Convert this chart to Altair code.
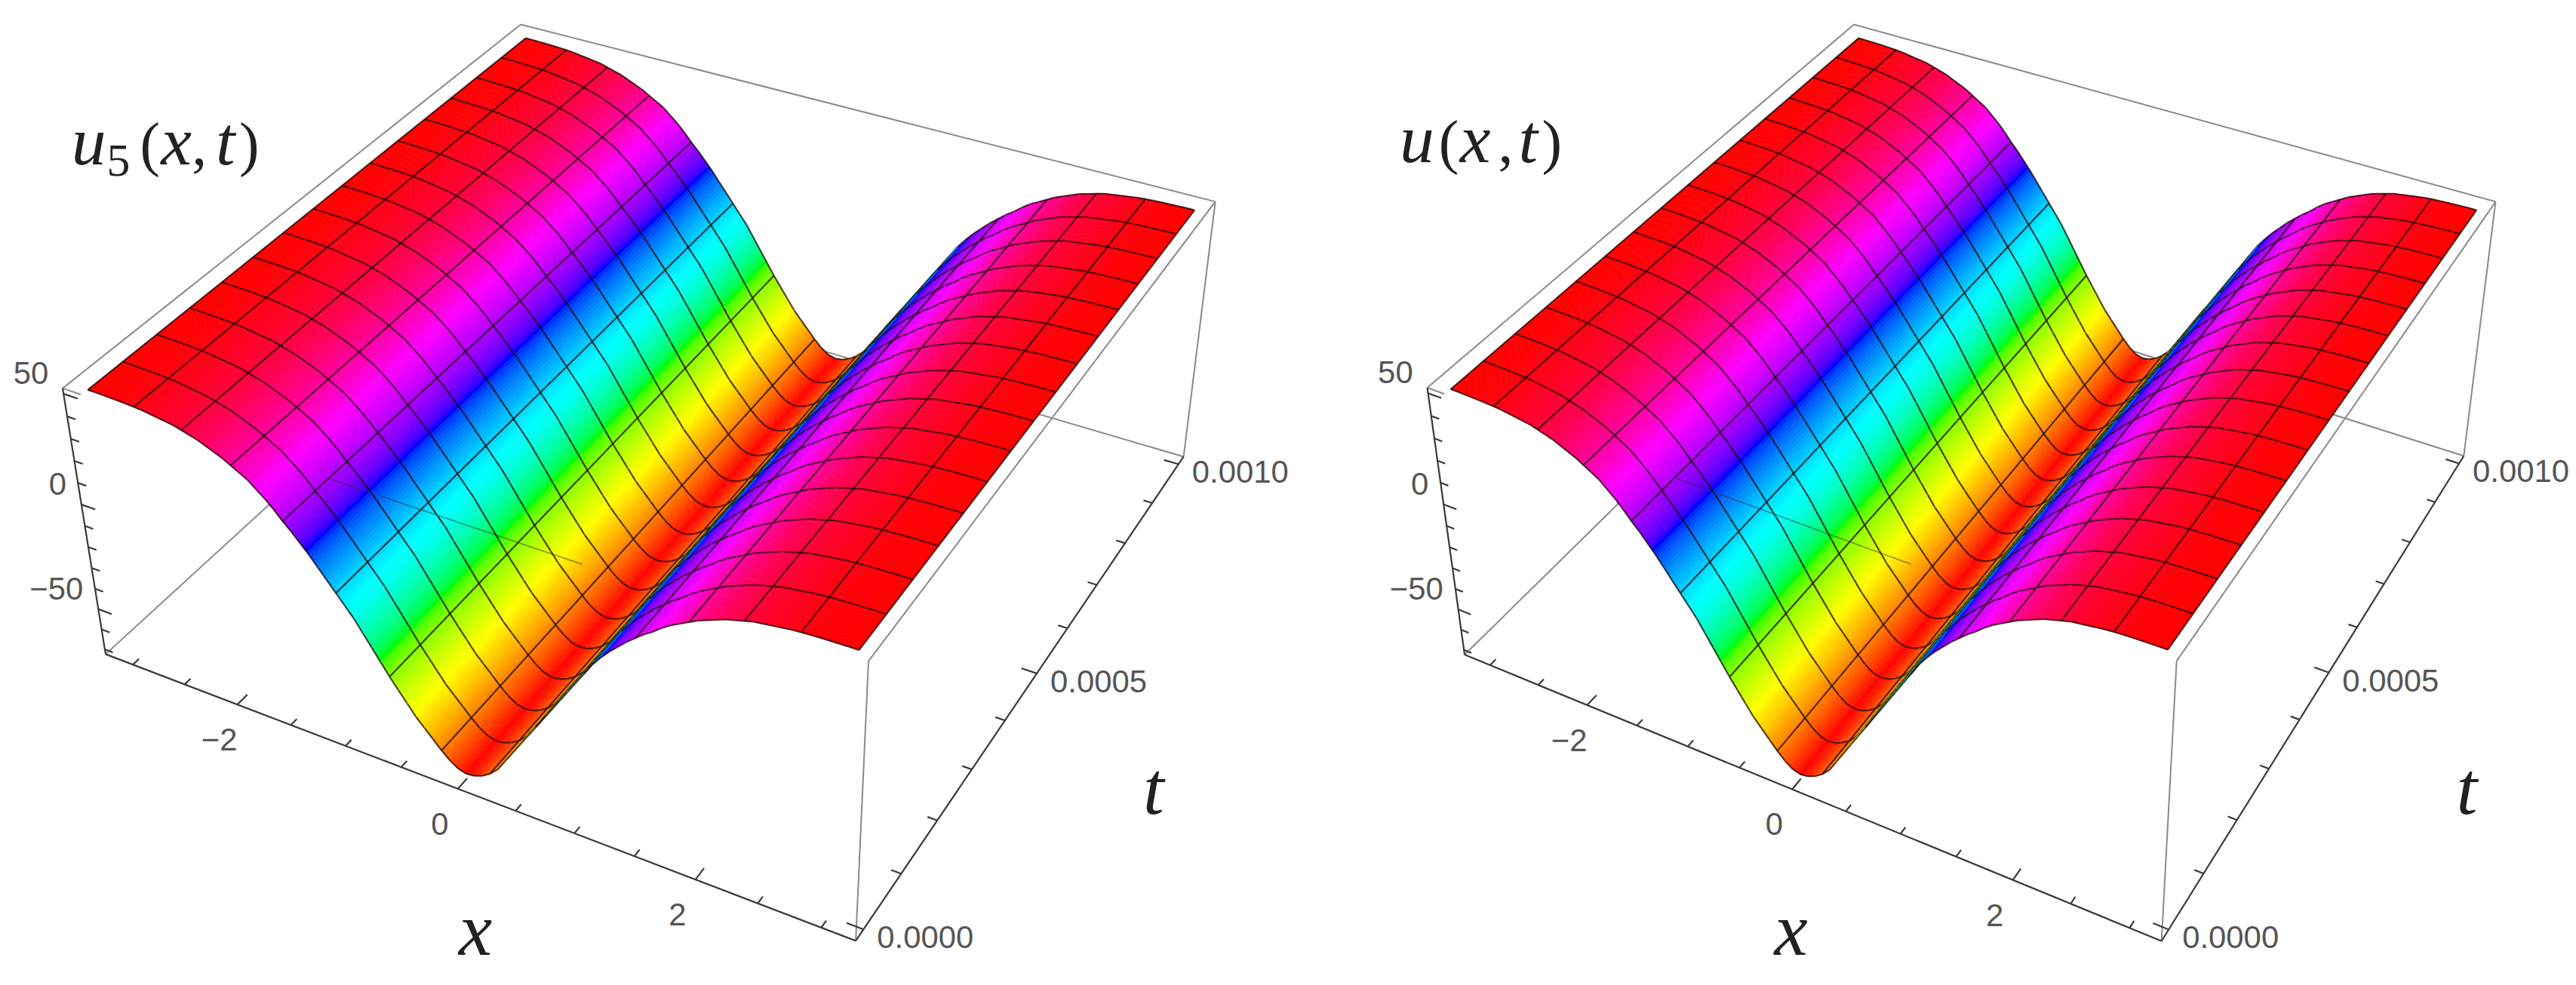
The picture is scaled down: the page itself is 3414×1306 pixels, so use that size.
"""Two side by side 3D surface plots, u5(x,t) and u(x,t), drawn with Altair."""

import numpy as np
import pandas as pd
import altair as alt

u_left_half = [
    50, 50, 49.9, 49.8, 49.7, 49.5, 49.3, 49, 48.5, 48,
    47.5, 47, 46, 45, 44, 42.5, 41, 39.5, 37.5, 35.5,
    33.5, 30.5, 27.5, 24, 20, 16.5, 12.5, 8.5, 4, -0.5,
    -5, -9.5, -14, -19.5, -25, -30.5, -36, -41, -46, -51,
    -55, -59, -63, -66.5, -69,
]
u_right_half = [
    -70, -69.5, -68, -65.5, -62, -56.5, -51, -45.5, -40, -34.5,
    -29, -23.5, -18, -12.5, -7, -1.5, 4, 8.5, 12.5, 16,
    19.5, 22.5, 25.5, 28, 31, 33.5, 35.5, 37.5, 39.5, 41,
    42.5, 44, 45, 46, 47, 47.5, 48, 48.5, 49, 49.3,
    49.5, 49.7, 49.8, 49.9, 50, 50,
]
u_values = u_left_half + u_right_half
x_values = list(np.linspace(-np.pi, np.pi, len(u_values)))

# data range of the box (2% padding round the surface, like the original)
x_range = [-3.267, 3.267]
t_range = [-0.00002, 0.00102]
u_range = [-72.4, 52.4]

t_max = 0.001
mesh_x_every = 6
mesh_t_count = 15
shade_steps = 4

x_ticks = [-3, -2.5, -2, -1.5, -1, -0.5, 0, 0.5, 1, 1.5, 2, 2.5, 3]
x_tick_labels = {-2: "\u22122", 0: "0", 2: "2"}
t_ticks = [0, 0.0001, 0.0002, 0.0003, 0.0004, 0.0005, 0.0006, 0.0007, 0.0008, 0.0009, 0.001]
t_tick_labels = {0: "0.0000", 0.0005: "0.0005", 0.001: "0.0010"}
u_ticks = [50, 40, 30, 20, 10, 0, -10, -20, -30, -40, -50, -60, -70]
u_tick_labels = {50: "50", 0: "0", -50: "\u221250"}

hue_stops = ["#ff0000", "#ffff00", "#00ff00", "#00ffff", "#0000ff", "#ff00ff", "#ff0000"]
hue_domain = [-70, -50, -30, -10, 10, 30, 50]

PANEL_W = 1699
PANEL_H = 1290

# where the box corners sit in the picture: (x, t, u) as 0/1 -> pixel
corners_left = {
    (0, 0, 1): (83, 515), (0, 0, 0): (141, 868), (1, 0, 1): (1154, 875), (1, 0, 0): (1138, 1251),
    (1, 1, 1): (1617, 268), (1, 1, 0): (1573, 604), (0, 1, 1): (692, 30),
}
corners_right = {
    (0, 0, 1): (1890, 515), (0, 0, 0): (1941, 868), (1, 0, 1): (2888, 875), (1, 0, 0): (2866, 1251),
    (1, 1, 1): (3311, 267), (1, 1, 0): (3269, 604), (0, 1, 1): (2458, 30),
}

# pieces of the axis names: text, left edge, baseline, italic or not, size
title_left = [
    ("u", 95, 217, True, 92), ("5", 142, 232, False, 62), ("(", 186, 217, False, 80),
    ("x", 214, 217, True, 92), (",", 255, 217, False, 80), ("t", 287, 217, True, 92), (")", 318, 217, False, 80),
]
title_right = [
    ("u", 1854, 214, True, 92), ("(", 1906, 214, False, 80), ("x", 1934, 214, True, 92),
    (",", 1985, 214, False, 80), ("t", 2012, 214, True, 92), (")", 2043, 214, False, 80),
]


def fit_camera(corners):
    """Fit a 3x4 perspective matrix to the box corners."""
    rows, rhs = [], []
    for (a, b, c), (px, py) in corners.items():
        rows.append([a, b, c, 1, 0, 0, 0, 0, -px * a, -px * b, -px * c])
        rhs.append(px)
        rows.append([0, 0, 0, 0, a, b, c, 1, -py * a, -py * b, -py * c])
        rhs.append(py)
    p = np.linalg.lstsq(np.array(rows, dtype=float), np.array(rhs, dtype=float), rcond=None)[0]
    return np.append(p, 1.0).reshape(3, 4)


def make_panel(title, corners, x_label_pos, t_label_pos, origin_x):
    cam = fit_camera(corners)

    def project(x, t, u):
        a = (x - x_range[0]) / (x_range[1] - x_range[0])
        b = (t - t_range[0]) / (t_range[1] - t_range[0])
        c = (u - u_range[0]) / (u_range[1] - u_range[0])
        v = cam @ np.array([a, b, c, 1.0])
        return v[0] / v[2], v[1] / v[2]

    def seg(p, q):
        return {"x": p[0], "y": p[1], "x2": q[0], "y2": q[1]}

    x0, x1 = x_range
    t0, t1 = t_range
    u0, u1 = u_range

    # back edges of the box go behind the surface
    back = pd.DataFrame([
        seg(project(x0, t1, u1), project(x1, t1, u1)),
        seg(project(x0, t0, u0), project(x0, t1, u0)),
        seg(project(x0, t1, u0), project(x1, t1, u0)),
        seg(project(x1, t1, u1), project(x1, t1, u0)),
        seg(project(x0, t0, u1), project(x0, t1, u1)),
        seg(project(x1, t0, u1), project(x1, t1, u1)),
        seg(project(x1, t0, u1), project(x1, t0, u0)),
        seg(project(x0, t0, u1), project(-3.1, t0, u1)),
    ])
    # the front top edge only shows through over the middle of the surface
    faint = pd.DataFrame([seg(project(-0.9, t0, u1), project(1.14, t0, u1))])

    # far strips first so the near slope hides what is behind it
    def geo_xy(p):
        return [p[0] - origin_x, p[1] - 8]

    def mesh_feature(p, q):
        return {"type": "Feature", "properties": {"kind": "mesh", "u": 0},
                "geometry": {"type": "LineString", "coordinates": [geo_xy(p), geo_xy(q)]}}

    t_mesh = [t_max * j / mesh_t_count for j in range(mesh_t_count + 1)]
    features = []
    for i in range(len(x_values) - 1):
        xa, xb, ua, ub = x_values[i], x_values[i + 1], u_values[i], u_values[i + 1]
        # a strip is cut in a few so the colour runs smoothly across it
        for k in range(shade_steps):
            f0, f1 = k / shade_steps, (k + 1) / shade_steps
            xc, xd = xa + (xb - xa) * f0, xa + (xb - xa) * f1
            uc, ud = ua + (ub - ua) * f0, ua + (ub - ua) * f1
            ring = [project(xc, 0, uc), project(xd, 0, ud), project(xd, t_max, ud), project(xc, t_max, uc)]
            ring = [geo_xy(p) for p in ring]
            ring.append(ring[0])
            features.append({"type": "Feature", "properties": {"kind": "surface", "u": (uc + ud) / 2},
                             "geometry": {"type": "Polygon", "coordinates": [ring]}})
        if i % mesh_x_every == 0:
            features.append(mesh_feature(project(xa, 0, ua), project(xa, t_max, ua)))
        for t in t_mesh:
            features.append(mesh_feature(project(xa, t, ua), project(xb, t, ub)))
    features.append(mesh_feature(project(x_values[-1], 0, u_values[-1]), project(x_values[-1], t_max, u_values[-1])))

    # axes and ticks
    axis_rows = [
        seg(project(x0, t0, u1), project(x0, t0, u0)),
        seg(project(x0, t0, u0), project(x1, t0, u0)),
        seg(project(x1, t0, u0), project(x1, t1, u0)),
    ]
    label_rows = []
    for v in x_ticks:
        major = v in x_tick_labels
        dt = (t1 - t0) * (0.02 if major else 0.012)
        p = project(v, t0, u0)
        axis_rows.append(seg(p, project(v, t0 + dt, u0)))
        if major:
            label_rows.append({"x": p[0] - 24, "y": p[1] + 48, "label": x_tick_labels[v], "align": "center"})
    for v in t_ticks:
        major = v in t_tick_labels
        dx = (x1 - x0) * (0.02 if major else 0.012)
        p = project(x1, v, u0)
        axis_rows.append(seg(p, project(x1 - dx, v, u0)))
        if major:
            label_rows.append({"x": p[0] + 18, "y": p[1] + 12, "label": t_tick_labels[v], "align": "left"})
    for v in u_ticks:
        major = v in u_tick_labels
        dx = (x1 - x0) * (0.02 if major else 0.012)
        p = project(x0, t0, v)
        axis_rows.append(seg(p, project(x0 + dx, t0, v)))
        if major:
            label_rows.append({"x": p[0] - 20, "y": p[1] - 26, "label": u_tick_labels[v], "align": "right"})
    axis_df = pd.DataFrame(axis_rows)
    labels = pd.DataFrame(label_rows)

    x_scale = alt.Scale(domain=[origin_x, origin_x + PANEL_W], nice=False, zero=False)
    y_scale = alt.Scale(domain=[8 + PANEL_H, 8], nice=False, zero=False)
    xenc = alt.X("x:Q", scale=x_scale, axis=None)
    yenc = alt.Y("y:Q", scale=y_scale, axis=None)

    def rules(df, color, width, opacity=1.0):
        return alt.Chart(df).mark_rule(color=color, strokeWidth=width, opacity=opacity).encode(
            x=xenc, y=yenc, x2="x2:Q", y2="y2:Q"
        )

    is_mesh = "datum.properties.kind === 'mesh'"
    hue_scale = alt.Scale(domain=hue_domain, range=hue_stops)
    surface = alt.Chart(alt.InlineData(values=features)).mark_geoshape().encode(
        fill=alt.condition(is_mesh, alt.value("transparent"),
                           alt.Fill("properties.u:Q", scale=hue_scale, legend=None)),
        stroke=alt.condition(is_mesh, alt.value("#200808"),
                             alt.Stroke("properties.u:Q", scale=hue_scale, legend=None)),
        strokeWidth=alt.condition(is_mesh, alt.value(2.2), alt.value(0.8)),
        strokeOpacity=alt.condition(is_mesh, alt.value(0.75), alt.value(1)),
    ).project(type="identity", scale=1, translate=[0, 0])

    def tick_text(align):
        return alt.Chart(labels[labels["align"] == align]).mark_text(
            font="Liberation Sans", fontSize=42, color="#555555", align=align, baseline="middle"
        ).encode(x=xenc, y=yenc, text="label:N")

    def name_text(rows, style):
        return alt.Chart(pd.DataFrame(rows)).mark_text(
            font="Liberation Serif", fontStyle=style, color="#222222", align="left", baseline="alphabetic"
        ).encode(x=xenc, y=yenc, text="label:N", size=alt.Size("size:Q", scale=None, legend=None))

    italic_rows = [{"x": a, "y": b, "label": s, "size": z} for s, a, b, it, z in title if it]
    roman_rows = [{"x": a, "y": b, "label": s, "size": z} for s, a, b, it, z in title if not it]
    italic_rows.append({"x": x_label_pos[0], "y": x_label_pos[1], "label": "x", "size": 100})
    italic_rows.append({"x": t_label_pos[0], "y": t_label_pos[1], "label": "t", "size": 100})

    return alt.layer(
        rules(back, "#8a8a8a", 2),
        surface,
        rules(faint, "#303030", 1.6, 0.5),
        rules(axis_df, "#3a3a3a", 2.2),
        tick_text("center"), tick_text("left"), tick_text("right"),
        name_text(italic_rows, "italic"), name_text(roman_rows, "normal"),
    ).properties(width=PANEL_W, height=PANEL_H)


left = make_panel(title_left, corners_left, (610, 1268), (1520, 1080), 8)
right = make_panel(title_right, corners_right, (2352, 1268), (3259, 1080), 8 + PANEL_W)

chart = alt.hconcat(left, right, spacing=0, padding=0).configure_view(stroke=None)

chart.save("out.html", embed_options={"renderer": "svg", "actions": False})
